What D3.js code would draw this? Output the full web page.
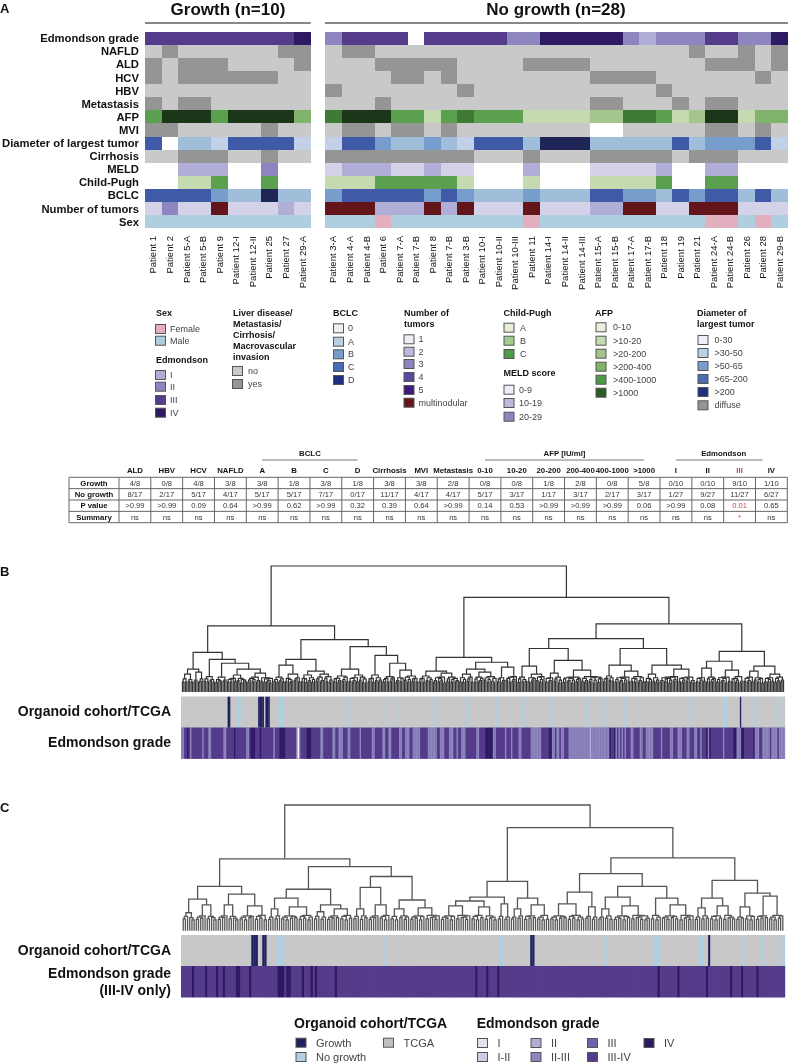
<!DOCTYPE html>
<html>
<head>
<meta charset="utf-8">
<script src="https://cdn.jsdelivr.net/npm/d3@7"></script>
<style>
body { margin:0; background:#fff; }
svg { display:block; font-family:"Liberation Sans",Arial,sans-serif; filter:blur(0.3px); }
</style>
</head>
<body>
<script>
// ---------- panel A heatmap data ----------
var patientsGrowth = ["Patient 1","Patient 2","Patient 5-A","Patient 5-B","Patient 9","Patient 12-I","Patient 12-II","Patient 25","Patient 27","Patient 29-A"];
var patientsNoGrowth = ["Patient 3-A","Patient 4-A","Patient 4-B","Patient 6","Patient 7-A","Patient 7-B","Patient 8","Patient 7-B ","Patient 3-B","Patient 10-I","Patient 10-II","Patient 10-III","Patient 11","Patient 14-I","Patient 14-II","Patient 14-III","Patient 15-A","Patient 15-B","Patient 17-A","Patient 17-B","Patient 18","Patient 19","Patient 21","Patient 24-A","Patient 24-B","Patient 26","Patient 28","Patient 29-B"];

// 10 growth values then 28 no growth values, 0 = not available
var edmondson = [3,3,3,3,3,3,3,3,3,4, 2,3,3,3,3,0,3,3,3,3,3,2,2,4,4,4,4,4,2,1,2,2,2,3,3,2,2,4];
var nafld = [1,2,1,1,1,1,1,1,2,2, 1,2,2,1,1,1,1,1,1,1,1,1,1,1,1,1,1,1,1,1,1,1,2,1,1,2,1,2];
var ald = [2,1,2,2,2,1,1,1,1,2, 1,1,1,2,2,2,2,2,1,1,1,1,2,2,2,2,1,1,1,1,1,1,1,2,2,2,1,2];
var hcv = [2,1,2,2,2,2,2,2,1,1, 1,1,1,1,2,2,1,2,1,1,1,1,1,1,1,1,2,2,2,2,1,1,1,1,1,1,2,1];
var hbv = [1,1,1,1,1,1,1,1,1,1, 2,1,1,1,1,1,1,1,2,1,1,1,1,1,1,1,1,1,1,1,2,1,1,1,1,1,1,1];
var metastasis = [2,1,2,2,1,1,1,1,1,1, 1,1,1,2,1,1,1,1,1,1,1,1,1,1,1,1,2,2,1,1,1,2,1,2,2,1,1,1];
var afp = [5,7,7,7,5,7,7,7,7,4, 6,7,7,7,5,5,2,5,6,5,5,5,2,2,2,2,3,3,6,6,5,2,3,7,7,2,4,4];
var mvi = [2,2,1,1,1,1,1,2,1,1, 1,2,2,1,2,2,1,2,1,1,1,1,1,1,1,1,0,0,1,1,1,1,1,2,2,1,2,1];
var diameter = [4,0,2,2,1,4,4,4,4,1, 1,4,4,3,2,2,3,2,1,4,4,4,2,5,5,5,2,2,2,2,2,4,2,3,3,3,4,1];
var cirrhosis = [1,1,2,2,2,1,1,2,1,1, 2,2,2,2,2,2,2,2,2,1,1,1,2,1,1,1,2,2,2,2,2,1,2,2,2,1,1,1];
var meld = [0,0,2,2,2,0,0,3,0,0, 1,2,2,2,1,1,2,1,1,0,0,0,2,0,0,0,1,1,1,1,2,0,0,2,2,0,0,0];
var childPugh = [0,0,1,1,3,0,0,3,0,0, 1,1,1,3,3,3,3,3,1,0,0,0,1,0,0,0,1,1,1,1,3,0,0,3,3,0,0,0];
var bclc = [4,4,4,4,3,2,2,5,2,2, 3,4,4,4,4,4,3,4,3,2,2,2,3,2,2,2,4,4,3,3,2,4,3,4,4,2,4,2];
var tumors = [1,3,1,1,6,1,1,1,2,1, 6,6,6,2,2,2,6,2,6,1,1,1,6,1,1,1,2,2,6,6,1,1,6,6,6,1,1,1];
var sex = [1,1,1,1,1,1,1,1,1,1, 1,1,1,2,1,1,1,1,1,1,1,1,2,1,1,1,1,1,1,1,1,1,1,2,2,1,2,1];

var rowNames = ["Edmondson grade","NAFLD","ALD","HCV","HBV","Metastasis","AFP","MVI","Diameter of largest tumor","Cirrhosis","MELD","Child-Pugh","BCLC","Number of tumors","Sex"];
var rowValues = [edmondson,nafld,ald,hcv,hbv,metastasis,afp,mvi,diameter,cirrhosis,meld,childPugh,bclc,tumors,sex];

var noYesCol = ["#fff","#c9c9c9","#959595"];
var edmCol = ["#fff","#b0aed6","#8d85bd","#553c8b","#2e1a63"];
var afpCol = ["#fff","#e2ecd8","#c5dab0","#a3c68c","#7fb46a","#5ba04f","#3f7a36","#1b3618"];
var diaCol = ["#fff","#c3d1e8","#a0bed9","#769dcc","#3f5ba7","#1f2657"];
var meldCol = ["#fff","#d3d2e8","#b0aed6","#8d85bd"];
var childCol = ["#fff","#c5dab0","#a3c68c","#5ba04f"];
var bclcCol = ["#fff","#c3d1e8","#a0bed9","#769dcc","#3f5ba7","#1f2657"];
var tumorCol = ["#fff","#d3d2e8","#b0aed6","#8d85bd","#553c8b","#2e1a63","#64151a"];
var sexCol = ["#fff","#afcfe0","#e2afbf"];
var rowColors = [edmCol,noYesCol,noYesCol,noYesCol,noYesCol,noYesCol,afpCol,noYesCol,diaCol,noYesCol,meldCol,childCol,bclcCol,tumorCol,sexCol];

// ---------- panel A legends ----------
var legendSex = [["Female","#e3aebd"],["Male","#aecfe0"]];
var legendEdm = [["I","#b0aed6"],["II","#8d85bd"],["III","#553c8b"],["IV","#2e1a63"]];
var legendLiver = [["no","#c9c9c9"],["yes","#959595"]];
var legendBclc = [["0","#eef0f8"],["A","#bcd0e4"],["B","#769dcc"],["C","#4a6cb0"],["D","#1f2f80"]];
var legendTumors = [["1","#eeeef6"],["2","#bdb8dc"],["3","#8d85bd"],["4","#5b4a9c"],["5","#3a1a7e"],["multinodular","#64151a"]];
var legendChild = [["A","#e2efd8"],["B","#a4cc8c"],["C","#4f9a48"]];
var legendMeld = [["0-9","#eeeef6"],["10-19","#bdb8dc"],["20-29","#8d85bd"]];
var legendAfp = [["0-10","#e6f0dc"],[">10-20","#c5dab0"],[">20-200","#a3c68c"],[">200-400","#7fb46a"],[">400-1000","#4f9a48"],[">1000","#2a5c2a"]];
var legendDia = [["0-30","#eef0f8"],[">30-50","#bcd0e4"],[">50-65","#769dcc"],[">65-200","#4a6cb0"],[">200","#1f2f80"],["diffuse","#959595"]];

// ---------- panel A table ----------
var tableCols = ["ALD","HBV","HCV","NAFLD","A","B","C","D","Cirrhosis","MVI","Metastasis","0-10","10-20","20-200","200-400","400-1000",">1000","I","II","III","IV"];
var tableRows = ["Growth","No growth","P value","Summary"];
var tGrowth = ["4/8","0/8","4/8","3/8","3/8","1/8","3/8","1/8","3/8","3/8","2/8","0/8","0/8","1/8","2/8","0/8","5/8","0/10","0/10","9/10","1/10"];
var tNoGrowth = ["8/17","2/17","5/17","4/17","5/17","5/17","7/17","0/17","11/17","4/17","4/17","5/17","3/17","1/17","3/17","2/17","3/17","1/27","9/27","11/27","6/27"];
var tPvalue = [">0.99",">0.99","0.09","0.64",">0.99","0.62",">0.99","0.32","0.39","0.64",">0.99","0.14","0.53",">0.99",">0.99",">0.99","0.06",">0.99","0.08","0.01","0.65"];
var tSummary = ["ns","ns","ns","ns","ns","ns","ns","ns","ns","ns","ns","ns","ns","ns","ns","ns","ns","ns","ns","*","ns"];

// ---------- dendrograms: merge height between neighbouring leaves (read in px above the baseline)
// strings hold one base-36 digit per gap, numbers are the taller merges
var mergesB = [
 "493g583l47i359",38,"594d683v3864c57r4839a5f6a2874l37a48c36h5b39462a",65,
 "583c694p4a835g69b4v4a93f6b38j59c36ga4d37",51,"49a36e58c4l5a36b4f7c392",44,"59a3f6b47z48a3d59br36b4ak7c38e59a3",126,
 "49a3e6b58j36b4a7c2h59c38a46x4b38g59c3l39c46ai7b38d52as49b36n7a3c58d",94,
 "39c485o4b37ag6c38d",42,"4a36bh59c27u39b46a27c48ak5a36d48b27c39a",52,
 "49ae6b5p38b46a27c4j5a39d36b4",42,"4a38g5b37p36b49a27c58dl4a37b59c362",67,
 "4a37b5m39c48at38b46a2c5k49a37d25",39,"5a36c4j7b38a2o4a38b5g3a6c47"
];
var mergesC = [
 "7bg95u6a8co7b95",43,"6a9co7b85z7a5c9bn6b8d5",71,
 "6ak7cv7a5c8b9m6b8d5a",40,"7bh6ao6a8c9k7b5d8",63,"7bk6c9",42,"6a9co8b5d",53,"7b5k9c6at6a8c5bl7d9a6c",126,
 "6a8c5bn7d9a6cs7b5d9m6c8a5w7bp6a",48,"7ak8cv6b8c9o7a5d6",103,
 "7a5c8b9p6b8d5a7",37,"8bm6a",56,"7ak8c6w6a8c5b9n7d9a6c58",43,"7d5av8a6c9b7o5d8a6c",72,
 "6al7c8v7b5c8n6d9a7",49,"6a8m7c5b",36,"6b8c9x7a5d8c"
];

// ---------- annotation strips (leaf positions, rest is TCGA)
var growthB = [32,33,53,54,55,56,58,59,60,384];
var noGrowthB = [39,40,67,68,69,113,140,148,174,197,216,234,246,253,254,278,290,291,304,350,373,374,394,397,409,412];
var growthC = [32,33,34,37,38,159,160,240];
var noGrowthC = [44,45,46,92,145,146,193,215,216,217,236,237,255,264,272,274];
// Edmondson grade of panel B leaves as runs: first digit grade, rest run length
var edmRunsB = "22 32 41 31 21 37 21 33 22 38 22 35 41 37 22 31 43 33 41 38 21 33 44 37 21 01 21 34 43 36 22 36 22 32 23 33 22 36 21 37 22 35 22 32 22 35 22 32 23 32 25 35 26 32 23 33 23 32 21 32 23 37 22 34 45 22 36 21 33 21 34 22 36 27 35 42 22 31 22 31 22 33 23 211 11 212 41 32 41 21 31 21 31 21 31 21 33 22 34 22 32 25 35 21 35 22 33 23 33 22 33 22 32 21 33 41 21 41 38 21 36 42 23 42 36 41 23 32 25 31 24 31 24".split(" ");
// grade IV leaves of panel C, rest is grade III
var gradeIVC = [5,11,16,19,25,26,31,44,45,46,48,49,55,59,61,70,134,139,144,217,226,239,250,255,262];

var stripGrowth = "#1f2060", stripNoGrowth = "#aed1e4", stripTcga = "#c8c8c8";

// ---------- bottom legends ----------
var legendCohort = [["Growth",stripGrowth],["No growth",stripNoGrowth],["TCGA","#c0c0c0"]];
var legendGrade = [["I","#e2e1ef"],["I-II","#cfcde5"],["II","#b0aed6"],["II-III","#8d85bd"],["III","#6f62aa"],["III-IV","#553c8b"],["IV","#2e1a63"]];

var svg = d3.select("body").append("svg").attr("width",788).attr("height",1064);

// ---------- helpers ----------
var txt = function(x,y,s,size,opt){
    opt = opt || {};
    return svg.append("text")
        .attr("x",x).attr("y",y)
        .attr("dy","0.35em")
        .attr("text-anchor",opt.anchor || "start")
        .attr("font-size",size)
        .attr("font-weight",opt.bold ? "bold" : "normal")
        .attr("fill",opt.fill || "#111")
        .text(s);
}

var legendBlock = function(x,items,ys,labelX){
    items.forEach(function(d,i){
        svg.append("rect").attr("x",x).attr("y",ys[i]-4.5).attr("width",10).attr("height",9)
            .attr("fill",d[1]).attr("stroke","#555").attr("stroke-width",1);
        txt(labelX,ys[i],d[0],9,{fill:"#444"});
    });
}

txt(0,8,"A",13,{bold:true});
txt(0,571,"B",13,{bold:true});
txt(0,807,"C",13,{bold:true});

// ---------- panel A heatmap ----------
var xGrowth = d3.scaleBand().domain(d3.range(patientsGrowth.length)).range([145,310.7]);
var xNoGrowth = d3.scaleBand().domain(d3.range(patientsNoGrowth.length)).range([325,788]);
var yRow = d3.scaleBand().domain(rowNames).range([31.7,228.3]);
var nG = patientsGrowth.length;

txt(228,9,"Growth (n=10)",17,{bold:true,anchor:"middle"});
txt(556,9,"No growth (n=28)",17,{bold:true,anchor:"middle"});
[[145,310.7],[325,788]].forEach(function(d){
    svg.append("line").attr("x1",d[0]).attr("x2",d[1]).attr("y1",23).attr("y2",23).attr("stroke","#111").attr("stroke-width",1);
});

rowNames.forEach(function(name,r){
    txt(139,yRow(name)+yRow.bandwidth()/2,name,11.25,{bold:true,anchor:"end"});
    svg.append("g").attr("shape-rendering","crispEdges").selectAll("rect").data(rowValues[r]).enter().append("rect")
        .attr("x",function(d,i){ return i<nG ? xGrowth(i) : xNoGrowth(i-nG); })
        .attr("y",yRow(name))
        .attr("width",function(d,i){ return i<nG ? xGrowth.bandwidth() : xNoGrowth.bandwidth(); })
        .attr("height",yRow.bandwidth())
        .attr("fill",function(d){ return rowColors[r][d]; });
});

var patientLabels = function(names,x){
    svg.append("g").selectAll("text").data(names).enter().append("text")
        .attr("transform",function(d,i){ return "translate("+(x(i)+x.bandwidth()/2+3.2)+",236) rotate(-90)"; })
        .attr("text-anchor","end")
        .attr("font-size",9.5)
        .attr("fill","#111")
        .text(function(d){ return d.trim(); });
}
patientLabels(patientsGrowth,xGrowth);
patientLabels(patientsNoGrowth,xNoGrowth);

// ---------- panel A legends ----------
var head = function(x,lines,ys){
    lines.forEach(function(s,i){ txt(x,ys[i],s,9,{bold:true}); });
}
head(156,["Sex"],[312.7]);
legendBlock(155.5,legendSex,[329,340.7],170);
head(156,["Edmondson"],[360]);
legendBlock(155.5,legendEdm,[375,386.7,400,412.7],170);

head(233,["Liver disease/","Metastasis/","Cirrhosis/","Macrovascular","invasion"],[312.7,324,335,346,357]);
legendBlock(232.5,legendLiver,[371,384],248);

head(333,["BCLC"],[312.7]);
legendBlock(333.5,legendBclc,[328.3,341.7,354.3,367,380],348);

head(404,["Number of","tumors"],[312.7,324]);
legendBlock(404,legendTumors,[339.3,351.7,364,377,390,402.7],418.5);

head(503.5,["Child-Pugh"],[312.7]);
legendBlock(504,legendChild,[327.7,340.7,354],520);
head(503.5,["MELD score"],[373.3]);
legendBlock(504,legendMeld,[389.7,403,416.7],519);

head(595,["AFP"],[312.7]);
legendBlock(596,legendAfp,[327.3,340.7,353.7,366.7,379.7,392.7],613);

head(697,["Diameter of","largest tumor"],[312.7,324]);
legendBlock(698,legendDia,[340,353,366,379,392,405.3],714.5);

// ---------- panel A table ----------
var xTab = d3.scaleBand().domain(d3.range(tableCols.length)).range([119,787.3]);
var yTab = d3.scaleBand().domain(tableRows).range([477.3,522.7]);
var tableValues = [tGrowth,tNoGrowth,tPvalue,tSummary];
var red = "#c8464a";
var colMid = function(i){ return xTab(i)+xTab.bandwidth()/2; };

tableCols.forEach(function(c,i){
    txt(colMid(i),470,c,7.8,{bold:true,anchor:"middle",fill:c=="III" ? red : "#111"});
});
[["BCLC",4,7,0],["AFP [IU/ml]",11,16,0],["Edmondson",17,20,9]].forEach(function(d){
    txt((colMid(d[1])+colMid(d[2]))/2,453.6,d[0],7.8,{bold:true,anchor:"middle"});
    svg.append("line").attr("x1",colMid(d[1])).attr("x2",colMid(d[2])-d[3]).attr("y1",460).attr("y2",460).attr("stroke","#777").attr("stroke-width",1);
});
tableRows.forEach(function(r,j){
    var yc = yTab(r)+yTab.bandwidth()/2;
    txt(94,yc,r,7.8,{bold:true,anchor:"middle"});
    tableValues[j].forEach(function(v,i){
        txt(colMid(i),yc,v,7.6,{anchor:"middle",fill:(i==19 && j>1) ? red : "#333"});
    });
});
yTab.domain().concat("end").forEach(function(r,j){
    var y = j<tableRows.length ? yTab(r) : yTab.range()[1];
    svg.append("line").attr("x1",69).attr("x2",787.3).attr("y1",y).attr("y2",y).attr("stroke","#666").attr("stroke-width",1);
});
[69].concat(xTab.domain().map(function(i){ return xTab(i); }),[787.3]).forEach(function(x){
    svg.append("line").attr("x1",x).attr("x2",x).attr("y1",477.3).attr("y2",522.7).attr("stroke","#666").attr("stroke-width",1);
});

// ---------- dendrograms ----------
var readMerges = function(list){
    var out = [];
    list.forEach(function(t){
        if(typeof t == "number") out.push(t);
        else t.split("").forEach(function(c){ out.push(parseInt(c,36)); });
    });
    return out;
}
var buildTree = function(m,lo,hi){
    if(lo==hi) return {h:0};
    var k = lo;
    for(var i=lo;i<hi;i++){ if(m[i]>m[k]) k=i; }
    return {h:m[k],children:[buildTree(m,lo,k),buildTree(m,k+1,hi)]};
}
var drawDendro = function(list,base,top,floor,lw,col){
    var m = readMerges(list), n = m.length+1;
    var band = d3.scaleBand().domain(d3.range(n)).range([181,785]);
    var root = d3.hierarchy(buildTree(m,0,n-1));
    d3.cluster().size([1,1]).separation(function(){ return 1; })(root);
    var x = d3.scaleLinear().domain([0,1]).range([181+band.bandwidth()/2,785-band.bandwidth()/2]);
    // lowest merges sit on a stem, so the first step of the scale is steeper
    var y = d3.scaleLinear().domain([0,2,14,126]).range([base,base-floor,base-16,top]);
    svg.append("g").selectAll("path").data(root.descendants().filter(function(d){ return d.children; }))
        .enter().append("path")
        .attr("d",function(d){
            var a = d.children[0], b = d.children[1];
            return "M"+x(a.x)+","+y(a.data.h)+"V"+y(d.data.h)+"H"+x(b.x)+"V"+y(b.data.h);
        })
        .attr("fill","none").attr("stroke",col).attr("stroke-width",lw);
    return band;
}

var drawStrip = function(band,y0,y1,colorOf){
    svg.append("rect").attr("x",181).attr("y",y0).attr("width",604).attr("height",y1-y0).attr("fill",colorOf(-1));
    svg.append("g").selectAll("rect").data(band.domain()).enter().append("rect")
        .attr("x",function(d){ return band(d); })
        .attr("y",y0)
        .attr("width",band.bandwidth()+0.2)
        .attr("height",y1-y0)
        .attr("fill",colorOf);
}
var cohortColor = function(g,ng){
    return function(i){ return g.indexOf(i)>=0 ? stripGrowth : (ng.indexOf(i)>=0 ? stripNoGrowth : stripTcga); };
}

// panel B
var bandB = drawDendro(mergesB,692,566,9,1.2,"#333");
drawStrip(bandB,696.7,727.7,cohortColor(growthB,noGrowthB));
var gradesB = [];
edmRunsB.forEach(function(t){
    d3.range(+t.slice(1)).forEach(function(){ gradesB.push(+t[0]); });
});
var bandGradeB = d3.scaleBand().domain(d3.range(gradesB.length)).range([181,785]);
drawStrip(bandGradeB,727.7,758.7,function(i){ return i<0 ? "#553c8b" : edmCol[gradesB[i]]; });
txt(171,711,"Organoid cohort/TCGA",14,{bold:true,anchor:"end"});
txt(171,742,"Edmondson grade",14,{bold:true,anchor:"end"});

// panel C
var bandC = drawDendro(mergesC,930.7,805,9,1.3,"#555");
drawStrip(bandC,935,966,cohortColor(growthC,noGrowthC));
drawStrip(bandC,966,997.3,function(i){ return gradeIVC.indexOf(i)>=0 ? "#2e1a63" : "#553c8b"; });
txt(171,950,"Organoid cohort/TCGA",14,{bold:true,anchor:"end"});
txt(171,972.7,"Edmondson grade",14,{bold:true,anchor:"end"});
txt(171,990,"(III-IV only)",14,{bold:true,anchor:"end"});

// ---------- bottom legends ----------
var bigSwatch = function(d,x,y){
    svg.append("rect").attr("x",x).attr("y",y-4.5).attr("width",10).attr("height",9)
        .attr("fill",d[1]).attr("stroke","#555").attr("stroke-width",1);
    txt(x+20,y,d[0],11,{fill:"#444"});
}
txt(294,1023.3,"Organoid cohort/TCGA",14,{bold:true});
bigSwatch(legendCohort[0],296,1042.7);
bigSwatch(legendCohort[1],296,1057);
bigSwatch(legendCohort[2],383.5,1042.7);
txt(476.7,1023.3,"Edmondson grade",14,{bold:true});
var gradeXs = [477.5,477.5,531,531,587.5,587.5,644], gradeYs = [1043,1057,1043,1057,1043,1057,1043];
legendGrade.forEach(function(d,i){ bigSwatch(d,gradeXs[i],gradeYs[i]); });
</script>
</body>
</html>
